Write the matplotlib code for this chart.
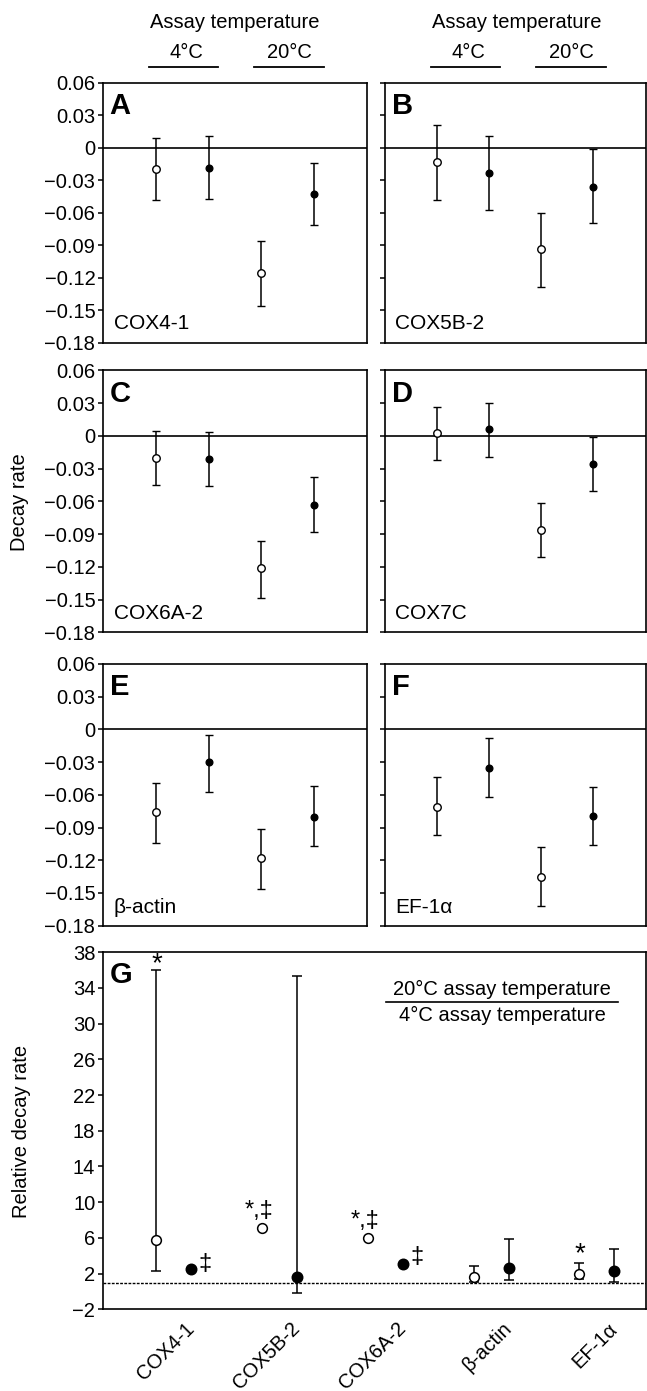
import matplotlib
matplotlib.use("Agg")
import matplotlib.pyplot as plt
import numpy as np

plt.rcParams['font.family'] = ['Liberation Sans', 'DejaVu Sans']
plt.rcParams['axes.unicode_minus'] = True

# --- Donnees panneaux A-F (taux de decroissance) ---
panels = ['A', 'B', 'C', 'D', 'E', 'F']
genes = ['COX4-1', 'COX5B-2', 'COX6A-2', 'COX7C', 'β-actin', 'EF-1α']

open_4c = [-0.020, -0.013, -0.020, 0.003, -0.076, -0.071]
open_4c_lo = [-0.048, -0.048, -0.045, -0.022, -0.104, -0.097]
open_4c_hi = [0.009, 0.021, 0.005, 0.027, -0.049, -0.044]
filled_4c = [-0.019, -0.023, -0.021, 0.006, -0.030, -0.035]
filled_4c_lo = [-0.047, -0.058, -0.046, -0.019, -0.057, -0.062]
filled_4c_hi = [0.011, 0.011, 0.004, 0.030, -0.005, -0.008]
open_20c = [-0.116, -0.094, -0.121, -0.086, -0.118, -0.135]
open_20c_lo = [-0.146, -0.129, -0.148, -0.111, -0.146, -0.162]
open_20c_hi = [-0.086, -0.060, -0.096, -0.061, -0.091, -0.108]
filled_20c = [-0.043, -0.036, -0.063, -0.026, -0.080, -0.079]
filled_20c_lo = [-0.071, -0.070, -0.088, -0.050, -0.107, -0.106]
filled_20c_hi = [-0.014, -0.001, -0.038, -0.001, -0.052, -0.053]

# --- Donnees panneau G (taux relatif 20°C / 4°C) ---
genes_g = ['COX4-1', 'COX5B-2', 'COX6A-2', 'β-actin', 'EF-1α']
rel_open = [5.8, 7.15, 6.0, 1.6, 2.0]
rel_open_lo = [2.3, np.nan, np.nan, 1.05, 1.4]
rel_open_hi = [36.0, np.nan, np.nan, 2.87, 3.17]
rel_filled = [2.5, 1.57, 3.13, 2.65, 2.3]
rel_filled_lo = [np.nan, -0.2, np.nan, 1.3, 1.05]
rel_filled_hi = [np.nan, 35.4, np.nan, 5.93, 4.77]

W, H = 647, 1391
fig = plt.figure(figsize=(W / 100, H / 100), dpi=100)


def box(x0, x1, y0, y1):
    # coordonnees en pixels -> fractions de figure
    return [x0 / W, 1 - y1 / H, (x1 - x0) / W, (y1 - y0) / H]


rows = [(82.7, 342.5), (370.5, 632.5), (664, 925.7)]
cols = [(103, 367), (385, 645.5)]

ticks_top = [0.06, 0.03, 0, -0.03, -0.06, -0.09, -0.12, -0.15, -0.18]
tick_lbl_top = ['0.06', '0.03', '0', '\u22120.03', '\u22120.06', '\u22120.09',
                '\u22120.12', '\u22120.15', '\u22120.18']

ebar = dict(ecolor='black', elinewidth=1.1, capsize=2.8, capthick=1.1, linestyle='none')

for k in range(6):
    r, c = divmod(k, 2)
    ax = fig.add_axes(box(cols[c][0], cols[c][1], rows[r][0], rows[r][1]))
    ax.axhline(0, color='black', lw=1.2)
    series = [
        (1, open_4c, open_4c_lo, open_4c_hi, 'white'),
        (2, filled_4c, filled_4c_lo, filled_4c_hi, 'black'),
        (3, open_20c, open_20c_lo, open_20c_hi, 'white'),
        (4, filled_20c, filled_20c_lo, filled_20c_hi, 'black'),
    ]
    for x, m, lo, hi, fc in series:
        err = [[m[k] - lo[k]], [hi[k] - m[k]]]
        ms = 5.4 if fc == 'white' else 4.8
        ax.errorbar([x], [m[k]], yerr=err, fmt='o', ms=ms, mfc=fc, mec='black',
                    mew=1.0, zorder=3, **ebar)
    ax.set_xlim(0, 5)
    ax.set_ylim(-0.18, 0.06)
    ax.set_xticks([])
    ax.set_yticks(ticks_top)
    if c == 0:
        ax.set_yticklabels(tick_lbl_top, fontsize=14.5)
    else:
        ax.set_yticklabels([])
    ax.tick_params(axis='y', direction='out', length=3.5, width=1.1, pad=2)
    for s in ax.spines.values():
        s.set_linewidth(1.2)
    ax.text(0.025, 0.965, panels[k], transform=ax.transAxes, ha='left', va='top',
            fontsize=21, fontweight='bold')
    ax.text(0.04, 0.035, genes[k], transform=ax.transAxes, ha='left', va='bottom',
            fontsize=15)

# en-tetes "Assay temperature"
for c in range(2):
    x0 = cols[c][0]
    fig.text((x0 + 132) / W, 1 - 22 / H, 'Assay temperature', ha='center', va='center',
             fontsize=14.5)
    for xc, lbl, u0, u1 in [(83, '4°C', 46, 115), (186, '20°C', 151, 221)]:
        fig.text((x0 + xc) / W, 1 - 53 / H, lbl, ha='center', va='center', fontsize=14.5)
        fig.add_artist(plt.Line2D([(x0 + u0) / W, (x0 + u1) / W], [1 - 67 / H, 1 - 67 / H],
                                  color='black', lw=1.3, transform=fig.transFigure))

fig.text(20 / W, 1 - 502 / H, 'Decay rate', rotation=90, ha='center', va='center',
         fontsize=14.5)

# --- Panneau G ---
axg = fig.add_axes(box(103, 645.5, 952.3, 1309.3))
xg = np.arange(len(genes_g))
off = 0.165
axg.axhline(1, color='black', lw=1.0, ls=(0, (2, 1)), zorder=1)
for i in range(len(genes_g)):
    for x, m, lo, hi, fc, ms in [(xg[i] - off, rel_open, rel_open_lo, rel_open_hi, 'white', 7.0),
                                 (xg[i] + off, rel_filled, rel_filled_lo, rel_filled_hi, 'black', 7.5)]:
        if np.isfinite(lo[i]):
            axg.errorbar([x], [m[i]], yerr=[[m[i] - lo[i]], [hi[i] - m[i]]], fmt='none',
                         ecolor='black', elinewidth=1.1, capsize=3.4, capthick=1.1, zorder=2)
        axg.plot([x], [m[i]], 'o', ms=ms, mfc=fc, mec='black', mew=1.1, zorder=3)

# annotations de significativite
axg.text(xg[0] - off, 36.7, '*', ha='center', va='center', fontsize=20)
axg.text(xg[0] + off + 0.07, 3.1, '‡', ha='left', va='center', fontsize=17)
axg.text(xg[1] - off - 0.03, 9.0, '*,‡', ha='center', va='center', fontsize=17)
axg.text(xg[2] - off - 0.03, 7.9, '*,‡', ha='center', va='center', fontsize=17)
axg.text(xg[2] + off + 0.07, 3.85, '‡', ha='left', va='center', fontsize=17)
axg.text(xg[4] - off, 4.2, '*', ha='center', va='center', fontsize=20)

axg.set_xlim(-0.67, 4.46)
axg.set_ylim(-2, 38)
yt = np.arange(-2, 39, 4)
axg.set_yticks(yt)
axg.set_yticklabels([str(v).replace('-', '\u2212') for v in yt], fontsize=14.5)
axg.set_xticks(xg + 0.1)
axg.set_xticklabels(genes_g, rotation=45, ha='right', rotation_mode='anchor', fontsize=14.5)
axg.tick_params(axis='x', length=0, pad=7)
axg.tick_params(axis='y', direction='out', length=3.5, width=1.1, pad=2)
for s in axg.spines.values():
    s.set_linewidth(1.2)
axg.text(0.013, 0.975, 'G', transform=axg.transAxes, ha='left', va='top',
         fontsize=21, fontweight='bold')

# fraction 20°C / 4°C
axg.text(0.736, 0.897, '20°C assay temperature', transform=axg.transAxes, ha='center',
         va='center', fontsize=14.5)
axg.plot([0.522, 0.950], [0.861, 0.861], color='black', lw=1.2, transform=axg.transAxes)
axg.text(0.736, 0.822, '4°C assay temperature', transform=axg.transAxes, ha='center',
         va='center', fontsize=14.5)

fig.text(22 / W, 1 - 1131 / H, 'Relative decay rate', rotation=90, ha='center', va='center',
         fontsize=14.5)

fig.savefig('out.png', dpi=100)
